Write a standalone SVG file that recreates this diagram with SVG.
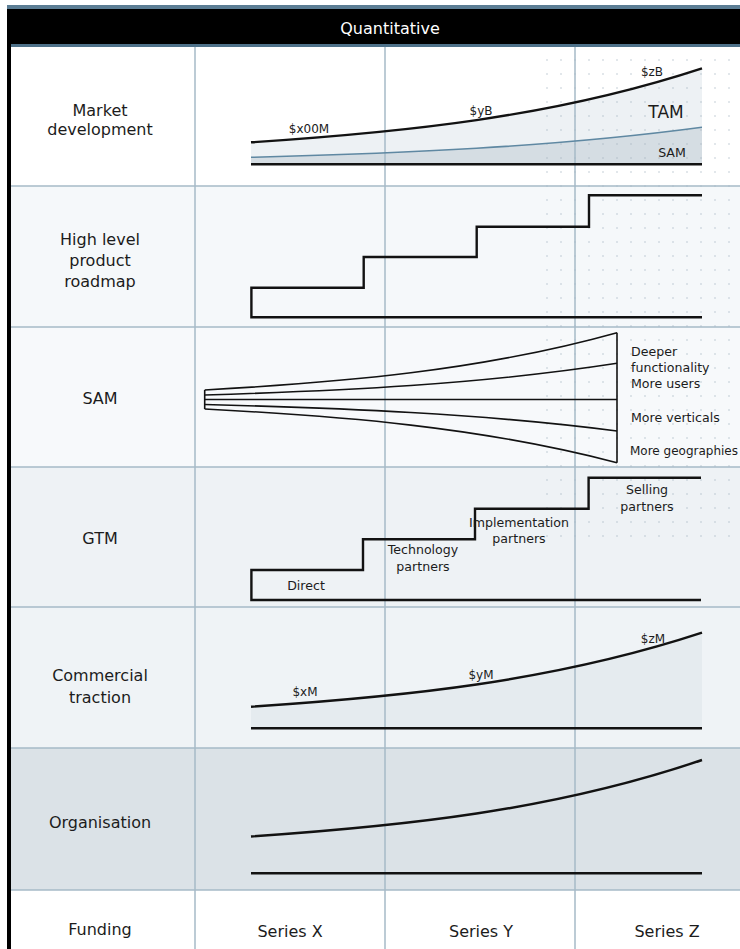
<svg xmlns="http://www.w3.org/2000/svg" width="740" height="949" viewBox="0 0 740 949">
<style>
text{font-family:"DejaVu Sans","Liberation Sans",sans-serif;fill:#1c1c1c}
.lbl{font-size:16px;text-anchor:middle}
.sm{font-size:12.6px}
.mid{text-anchor:middle}
.val{font-size:12px;text-anchor:middle}
.grid{stroke:#a7bac8;stroke-width:1.5;fill:none}
.ink{stroke:#121212;stroke-width:2.4;fill:none;stroke-linejoin:miter}
.fan{stroke:#121212;stroke-width:1.6;fill:none}
</style>
<defs>
<pattern id="dots" x="541" y="40" width="14" height="14" patternUnits="userSpaceOnUse">
<rect x="5" y="5" width="2" height="2" fill="#9fb0bd" fill-opacity="0.3"/>
</pattern>
</defs>
<rect width="740" height="949" fill="#fff"/>

<!-- row bands -->
<g id="bands">
<rect x="11" y="47" width="729" height="139" fill="#ffffff"/>
<rect x="11" y="186" width="729" height="141" fill="#f5f8fa"/>
<rect x="11" y="327" width="729" height="140" fill="#f7f9fb"/>
<rect x="11" y="467" width="729" height="140" fill="#eef2f5"/>
<rect x="11" y="607" width="729" height="141" fill="#eff3f6"/>
<rect x="11" y="748" width="729" height="142" fill="#dbe2e7"/>
<rect x="11" y="890" width="729" height="59" fill="#ffffff"/>
</g>

<!-- area fills under the growth curves -->
<g id="fills">
<path d="M251 142.3 C401.3 132.3 551.7 117.7 702 68.3 L702 164.3 L251 164.3 Z" fill="#edf1f4"/>
<path d="M251 157.3 C401.3 153.3 551.7 147.3 702 127.3 L702 164.3 L251 164.3 Z" fill="#d5dde3"/>
<path d="M251 706.7 C401.3 696.7 551.7 682.1 702 632.7 L702 728.3 L251 728.3 Z" fill="#e5ebef"/>
</g>

<rect x="541" y="47" width="199" height="493" fill="url(#dots)"/>

<!-- table rules -->
<g id="grid" class="grid">
<path d="M195 47V949M385 47V949M575 47V949"/>
<path d="M11 186H740M11 327H740M11 467H740M11 607H740M11 748H740M11 890H740"/>
</g>

<!-- header band and frame -->
<g id="header">
<rect x="7" y="5" width="733" height="4" fill="#5b7d94"/>
<rect x="7" y="9" width="733" height="35" fill="#000"/>
<rect x="11" y="44" width="729" height="3" fill="#4e7189"/>
<rect x="7" y="9" width="4" height="940" fill="#000"/>
<text x="390" y="34" class="lbl" style="fill:#fff">Quantitative</text>
</g>

<g id="row-market">
<text x="100" y="116" class="lbl">Market</text>
<text x="100" y="135" class="lbl">development</text>
<path class="ink" d="M251 142.3 C401.3 132.3 551.7 117.7 702 68.3"/>
<path d="M251 157.3 C401.3 153.3 551.7 147.3 702 127.3" fill="none" stroke="#5f88a2" stroke-width="1.6"/>
<path class="ink" d="M251 164.3H702"/>
<text x="309" y="133" class="val">$x00M</text>
<text x="481" y="115" class="val">$yB</text>
<text x="652" y="76" class="val">$zB</text>
<text x="666" y="118" style="font-size:17px" class="mid">TAM</text>
<text x="672" y="157" class="sm mid">SAM</text>
</g>

<g id="row-roadmap">
<text x="100" y="245" class="lbl">High level</text>
<text x="100" y="266" class="lbl">product</text>
<text x="100" y="287" class="lbl">roadmap</text>
<path class="ink" d="M702 317.3H251.4V287.7H363.7V257H476.7V226.7H589V195.3H702"/>
</g>

<g id="row-sam">
<text x="100" y="404" class="lbl">SAM</text>
<g class="fan">
<path d="M204.7 390V409"/>
<path d="M617 332.7V462.7"/>
<path d="M204.7 390 C342.1 382.3 479.6 371 617 332.7"/>
<path d="M204.7 395 C342.1 390.7 479.6 384.5 617 363.3"/>
<path d="M204.7 399.5H617"/>
<path d="M204.7 404.5 C342.1 408.1 479.6 413.3 617 431"/>
<path d="M204.7 409 C342.1 416.2 479.6 426.8 617 462.7"/>
</g>
<text x="631" y="356" class="sm">Deeper</text>
<text x="631" y="372" class="sm">functionality</text>
<text x="631" y="388" class="sm">More users</text>
<text x="631" y="422" class="sm">More verticals</text>
<text x="630" y="455" class="sm" style="font-size:12px">More geographies</text>
</g>

<g id="row-gtm">
<text x="100" y="544" class="lbl">GTM</text>
<path class="ink" d="M701 600H251.4V570H363V539.3H475V508.7H588.6V477.7H701"/>
<text x="306" y="590" class="sm mid">Direct</text>
<text x="423" y="554" class="sm mid">Technology</text>
<text x="423" y="571" class="sm mid">partners</text>
<text x="519" y="527" class="sm mid">Implementation</text>
<text x="519" y="543" class="sm mid">partners</text>
<text x="647" y="494" class="sm mid">Selling</text>
<text x="647" y="511" class="sm mid">partners</text>
</g>

<g id="row-traction">
<text x="100" y="681" class="lbl">Commercial</text>
<text x="100" y="703" class="lbl">traction</text>
<path class="ink" d="M251 706.7 C401.3 696.7 551.7 682.1 702 632.7"/>
<path class="ink" d="M251 728.3H702"/>
<text x="305" y="696" class="val">$xM</text>
<text x="481" y="679" class="val">$yM</text>
<text x="653" y="643" class="val">$zM</text>
</g>

<g id="row-organisation">
<text x="100" y="828" class="lbl">Organisation</text>
<path class="ink" d="M251 836.5 C401.3 826.2 551.7 811.1 702 760"/>
<path class="ink" d="M251 873.3H702"/>
</g>

<g id="row-funding">
<text x="100" y="935" class="lbl">Funding</text>
<text x="290" y="937" class="lbl">Series X</text>
<text x="481" y="937" class="lbl">Series Y</text>
<text x="667" y="937" class="lbl">Series Z</text>
</g>
</svg>
